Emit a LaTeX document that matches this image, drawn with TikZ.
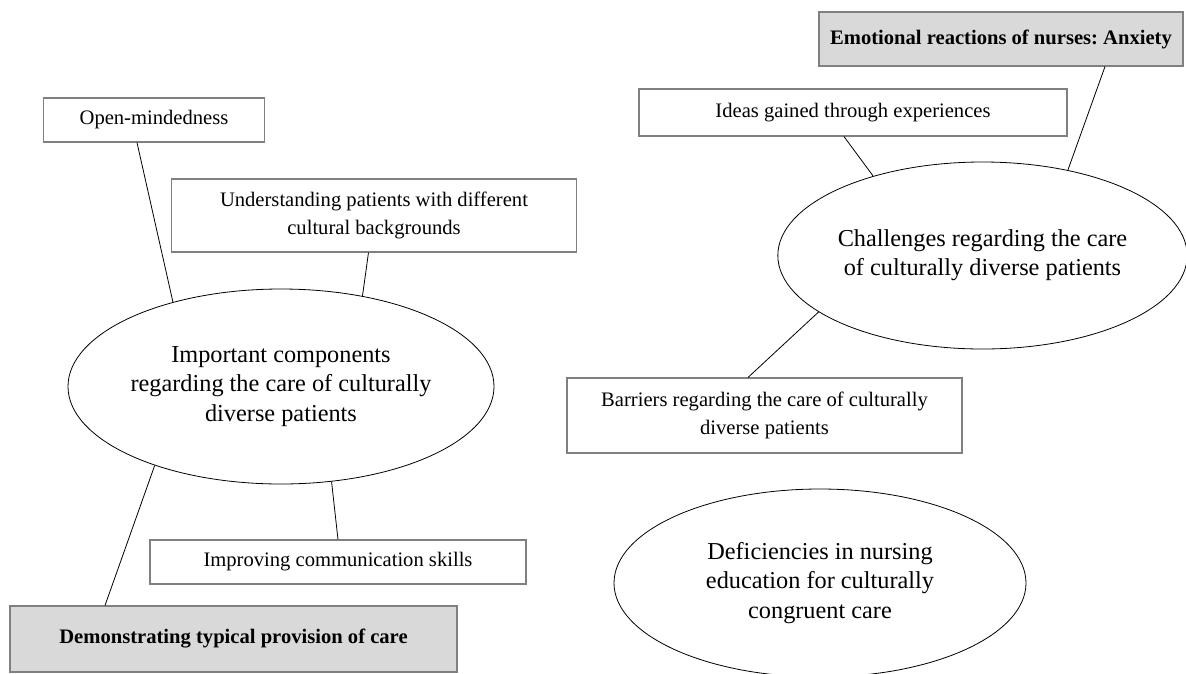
\documentclass[tikz,border=0pt]{standalone}
\usepackage{fontspec}
\setmainfont{Liberation Serif}
\usetikzlibrary{shapes.geometric}
\definecolor{boxline}{RGB}{128,128,128}
\definecolor{boxfill}{RGB}{217,217,217}
\frenchspacing
\begin{document}
\begin{tikzpicture}[
        x=1pt, y=-1pt,
        line width=0.8pt,
        font=\fontsize{20.6}{28.3}\selectfont
    ]
    \tikzset{
        mybox/.style = {rectangle, draw=boxline, line width=1.1pt, fill=white, align=center, inner sep=0pt},
        myboxg/.style = {mybox, fill=boxfill, font=\fontsize{20.6}{28.3}\selectfont\bfseries},
        myell/.style = {ellipse, draw=black, line width=0.8pt, align=center, inner sep=0pt,
                        font=\fontsize{24.3}{29.3}\selectfont},
        edgen/.style = {-, black, line width=0.8pt},
    }
    \useasboundingbox (0,0) rectangle (1186,673);
    % left group
    \node[myell, minimum width=426pt, minimum height=195pt] at (281,386.5) (comp)
        {Important components\\regarding the care of culturally\\diverse patients};
    \node[mybox, minimum width=221pt, minimum height=44pt] at (154,120) (open) {Open-mindedness};
    \node[mybox, minimum width=405pt, minimum height=73pt] at (374,215.5) (under)
        {Understanding patients with different\\cultural backgrounds};
    \node[mybox, minimum width=376pt, minimum height=44pt] at (338,562) (commu)
        {Improving communication skills};
    \node[myboxg, minimum width=447pt, minimum height=66pt] at (233.5,639) (demo)
        {Demonstrating typical provision of care};
    % right group
    \node[myell, minimum width=399pt, minimum height=187pt] at (982.5,255.5) (chall)
        {Challenges regarding the care\\of culturally diverse patients};
    \node[myboxg, minimum width=364pt, minimum height=54pt] at (1001,39) (anx)
        {Emotional reactions of nurses: Anxiety};
    \node[mybox, minimum width=428pt, minimum height=47pt] at (853,112.5) (ideas)
        {Ideas gained through experiences};
    \node[mybox, minimum width=395pt, minimum height=75pt] at (764.5,415.5) (barr)
        {Barriers regarding the care of culturally\\diverse patients};
    \node[myell, minimum width=412pt, minimum height=188pt] at (820,583) (defic)
        {Deficiencies in nursing\\education for culturally\\congruent care};
    %
    \draw[edgen] ([xshift=-17pt]open.south) -- (comp.142.5);
    \draw[edgen] ([xshift=-5.5pt]under.south) -- (comp.48.5);
    \draw[edgen] (comp.212.6) -- ([xshift=-128.5pt]demo.north);
    \draw[edgen] (comp.298.8) -- (commu.north);
    %
    \draw[edgen] ([xshift=-9pt]ideas.south) -- (chall.144.5);
    \draw[edgen] ([xshift=104pt]anx.south) -- (chall.45);
    \draw[edgen] (chall.199.3) -- ([xshift=-16.5pt]barr.north);
\end{tikzpicture}
\end{document}
